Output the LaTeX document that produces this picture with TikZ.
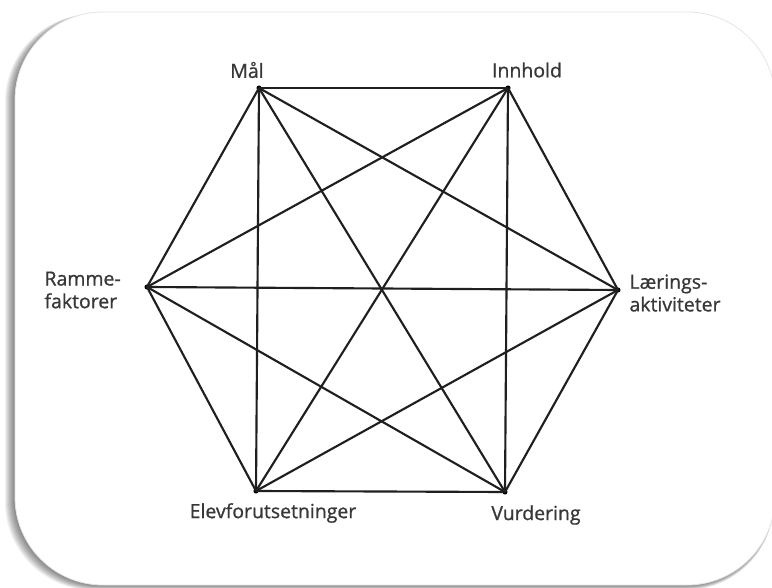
\documentclass[tikz,border=0pt]{standalone}
\usepackage{fontspec}
\setmainfont{Open Sans}
\newfontfamily\lblfont[FakeBold=0.9]{Open Sans}
\tikzset{every picture/.style={line width=0.75pt}}
\tikzset{
  vertex/.style={circle,fill=black,inner sep=0pt,minimum size=3.8pt},
  lbl/.style={inner sep=0.75pt,font=\lblfont\fontsize{14.6}{17}\selectfont,text=black!78},
  edge/.style={line width=1.6pt,black!88}
}

\begin{document}
\begin{tikzpicture}[x=0.75pt,y=0.75pt,yscale=-1,xscale=1]
    \useasboundingbox (0,0) rectangle (772,588);

    %Shape: Shadow of the frame
    \foreach \i in {1,...,10}
      \fill [black,opacity=0.06,rounded corners=66pt] (15-\i,14) rectangle (774,585+0.5*\i);
    %Shape: Rounded Rect [id:frame]
    \draw [draw=black!10,fill=white,rounded corners=66pt,line width=0.6pt] (15,12) rectangle (775,585);

    %Shape: Circle - the six corners
    \node [vertex] (maal) at (259,88) {};
    \node [vertex] (innhold) at (508,88) {};
    \node [vertex] (laering) at (618,290) {};
    \node [vertex] (vurdering) at (505,492) {};
    \node [vertex] (elev) at (256,491) {};
    \node [vertex] (ramme) at (147,287) {};

    %Straight Lines - every corner joined to every other
    \foreach \a/\b in {maal/innhold,maal/laering,maal/vurdering,maal/elev,maal/ramme,
                       innhold/laering,innhold/vurdering,innhold/elev,innhold/ramme,
                       laering/vurdering,laering/elev,laering/ramme,
                       vurdering/elev,vurdering/ramme,
                       elev/ramme}
      \draw [edge] (\a.center) -- (\b.center);

    % Text Node
    \node [lbl] (tmaal) at (247,70) {Mål};
    % Text Node
    \node [lbl] (tinnhold) at (527,70) {Innhold};
    % Text Node
    \node [lbl,anchor=west,align=left] (tlaering) at (628,293) {Lærings-\\aktiviteter};
    % Text Node
    \node [lbl,anchor=west,align=left] (tramme) at (43,290) {Ramme-\\faktorer};
    % Text Node
    \node [lbl] (telev) at (273,513) {Elevforutsetninger};
    % Text Node
    \node [lbl] (tvurdering) at (536,515) {Vurdering};

\end{tikzpicture}
\end{document}
